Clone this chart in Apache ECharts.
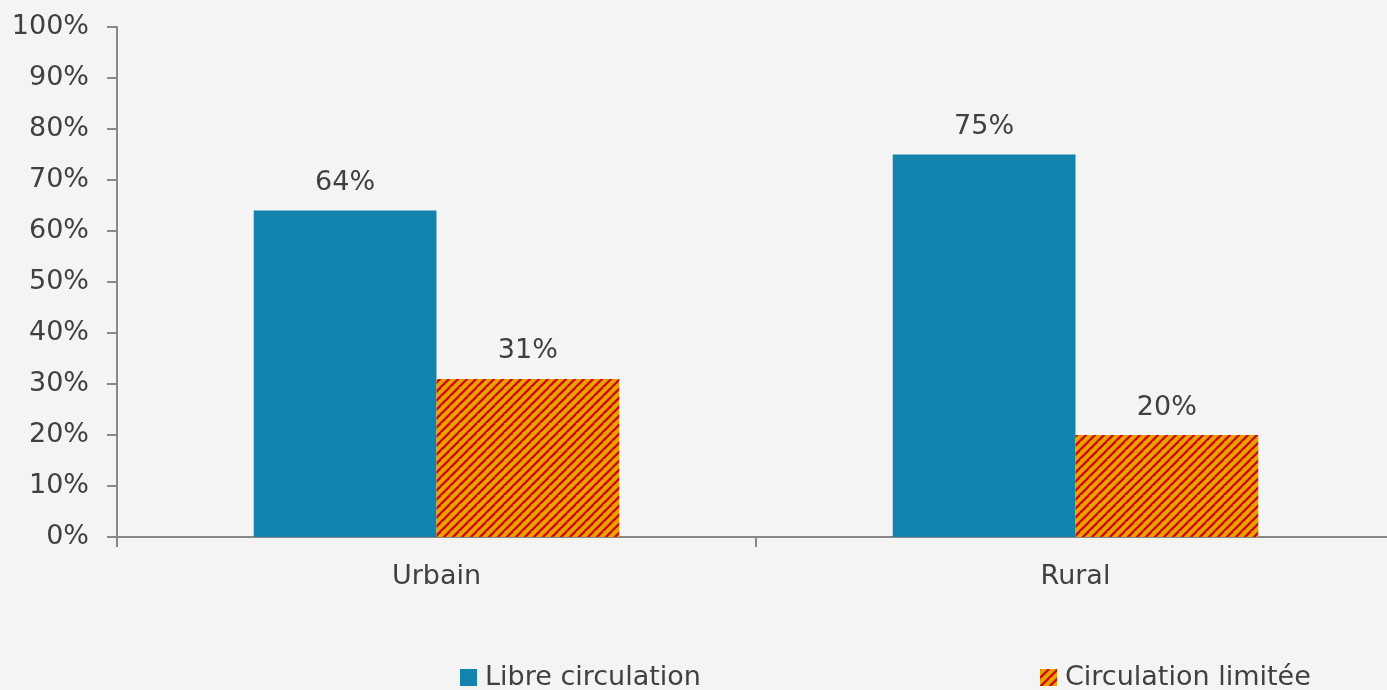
<!DOCTYPE html>
<html>
<head>
<meta charset="utf-8">
<script src="https://cdn.jsdelivr.net/npm/echarts@6/dist/echarts.min.js"></script>
<style>
  html, body { margin: 0; padding: 0; background: #f4f4f4; }
  #main { width: 1387px; height: 690px; }
</style>
</head>
<body>
<div id="main"></div>
<script>
var categories = ['Urbain', 'Rural'];
var libre = [64, 75];
var limitee = [31, 20];
var seriesNames = ['Libre circulation', 'Circulation limitée'];

// hatch pattern: red diagonal stripes on orange
function makeHatch() {
    var c = document.createElement('canvas');
    c.width = 9;
    c.height = 9;
    var ctx = c.getContext('2d');
    ctx.fillStyle = '#e9a200';
    ctx.fillRect(0, 0, 9, 9);
    ctx.strokeStyle = '#cc0a0a';
    ctx.lineWidth = 2.3;
    for (var k = -9; k <= 18; k += 9) {
        ctx.beginPath();
        ctx.moveTo(k - 9, 18);
        ctx.lineTo(k + 9, 0);
        ctx.stroke();
    }
    return c;
}

var textColor = '#404040';
var fontFam = 'DejaVu Sans';
var fs = 27;
var myChart = echarts.init(document.getElementById('main'));

var legendBase = {
    top: 659,
    itemWidth: 17,
    itemHeight: 17,
    icon: 'rect',
    textStyle: { fontSize: fs, color: textColor, fontFamily: fontFam, padding: [0, 0, 0, 3] }
};

var option = {
    backgroundColor: '#f4f4f4',
    animation: false,
    textStyle: { fontFamily: fontFam },
    grid: { left: 117, width: 1278, top: 27, height: 510, outerBoundsMode: 'none', containLabel: false },
    legend: [
        Object.assign({ data: [seriesNames[0]], left: 455 }, legendBase),
        Object.assign({ data: [seriesNames[1]], left: 1035 }, legendBase)
    ],
    xAxis: {
        type: 'category',
        data: categories,
        axisLine: { lineStyle: { color: '#888', width: 2 } },
        axisTick: { show: true, length: 10, lineStyle: { color: '#888', width: 2 } },
        axisLabel: { fontSize: fs, color: textColor, margin: 26 }
    },
    yAxis: {
        type: 'value',
        min: 0,
        max: 100,
        interval: 10,
        axisLine: { show: true, lineStyle: { color: '#888', width: 2 } },
        axisTick: { show: true, length: 10, lineStyle: { color: '#888', width: 2 } },
        splitLine: { show: false },
        axisLabel: { fontSize: fs, color: textColor, margin: 28, formatter: '{value}%' }
    },
    series: [{
        name: seriesNames[0],
        type: 'bar',
        data: libre,
        barGap: 0,
        barCategoryGap: '42.8%',
        itemStyle: { color: '#1283ad' },
        label: { show: true, position: 'top', distance: 14, fontSize: fs, color: textColor, formatter: '{c}%' }
    }, {
        name: seriesNames[1],
        type: 'bar',
        data: limitee,
        itemStyle: { color: { image: makeHatch(), repeat: 'repeat' } },
        label: { show: true, position: 'top', distance: 14, fontSize: fs, color: textColor, formatter: '{c}%' }
    }]
};

myChart.setOption(option);
</script>
</body>
</html>
